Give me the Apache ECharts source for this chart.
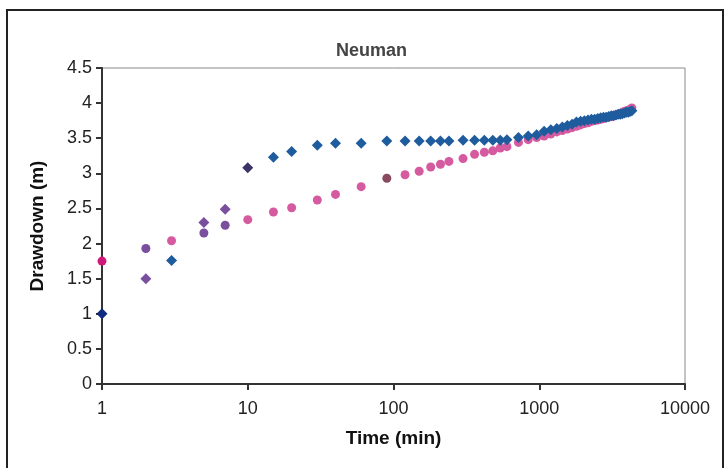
<!DOCTYPE html>
<html>
<head>
<meta charset="utf-8">
<script src="https://cdn.jsdelivr.net/npm/echarts@6/dist/echarts.min.js"></script>
<style>
  html, body { margin: 0; padding: 0; background: #fff; }
  #chart { width: 726px; height: 468px; }
</style>
</head>
<body>
<div id="chart"></div>
<script>
// time (min) of each reading
const times = [
  1, 2, 3, 5, 7, 10, 15, 20, 30, 40, 60, 90, 120, 150, 180, 210, 240, 300, 360,
  420, 480, 540, 600, 720, 840, 960, 1080, 1200, 1320, 1440, 1560, 1680, 1800,
  1920, 2040, 2160, 2280, 2400, 2520, 2640, 2760, 2880, 3000, 3120, 3240, 3360,
  3480, 3600, 3720, 3840, 3960, 4080, 4200, 4320
];

// blue diamonds
const observed = [
  1.00, 1.50, 1.76, 2.30, 2.49, 3.08, 3.23, 3.31, 3.40, 3.43, 3.43, 3.46, 3.46,
  3.46, 3.46, 3.46, 3.46, 3.47, 3.47, 3.47, 3.47, 3.47, 3.48, 3.51, 3.53, 3.55,
  3.60, 3.62, 3.64, 3.66, 3.68, 3.70, 3.73, 3.74, 3.75, 3.76, 3.77, 3.77, 3.78,
  3.79, 3.80, 3.80, 3.81, 3.82, 3.82, 3.83, 3.84, 3.84, 3.85, 3.86, 3.87, 3.87,
  3.88, 3.89
];

// pink circles
const neuman = [
  1.75, 1.93, 2.04, 2.15, 2.26, 2.34, 2.45, 2.51, 2.62, 2.70, 2.81, 2.93, 2.98,
  3.03, 3.09, 3.13, 3.17, 3.21, 3.27, 3.30, 3.32, 3.36, 3.38, 3.44, 3.48, 3.51,
  3.53, 3.56, 3.59, 3.61, 3.63, 3.65, 3.67, 3.69, 3.71, 3.72, 3.74, 3.75, 3.76,
  3.77, 3.78, 3.79, 3.80, 3.81, 3.82, 3.83, 3.84, 3.85, 3.87, 3.88, 3.89, 3.90,
  3.91, 3.93
];

const yTicks = [0, 0.5, 1, 1.5, 2, 2.5, 3, 3.5, 4, 4.5];

// odd colours of a few early points in the scan
const diamondTint = { 1: '#0f2a80', 2: '#7a4f9e', 5: '#7a4f9e', 7: '#7a4f9e', 10: '#3a3566' };
const circleTint = { 1: '#d0187a', 2: '#7a4f9e', 5: '#7a4f9e', 7: '#7a4f9e', 90: '#8a4a5e' };

function build(values, tint) {
  return times.map((t, i) => {
    const d = { value: [t, values[i]] };
    if (tint[t]) d.itemStyle = { color: tint[t], opacity: 1 };
    return d;
  });
}

const chart = echarts.init(document.getElementById('chart'));

chart.setOption({
  backgroundColor: '#fff',
  animation: false,
  title: {
    text: 'Neuman',
    left: 331,
    top: 37,
    textStyle: { fontFamily: 'Liberation Sans, Arial', fontSize: 18, fontWeight: 'bold', color: '#444' }
  },
  graphic: [{
    type: 'rect',
    shape: { x: 7, y: 10, width: 716, height: 470 },
    style: { fill: 'none', stroke: '#222', lineWidth: 2 },
    silent: true
  }],
  grid: {
    left: 102, right: 41, top: 68, bottom: 84,
    show: true, borderColor: '#888', borderWidth: 1, backgroundColor: '#fff'
  },
  xAxis: {
    type: 'log',
    logBase: 10,
    min: 1,
    max: 10000,
    name: 'Time (min)',
    nameLocation: 'middle',
    nameGap: 45,
    nameTextStyle: { fontFamily: 'Liberation Sans, Arial', fontSize: 19, fontWeight: 'bold', color: '#111' },
    axisLine: { lineStyle: { color: '#333', width: 2 } },
    axisTick: { show: true, length: 6, lineStyle: { color: '#333', width: 2 } },
    minorTick: { show: false },
    splitLine: { show: false },
    axisLabel: {
      fontFamily: 'Liberation Sans, Arial', fontSize: 18, color: '#222', margin: 16,
      formatter: v => String(Math.round(v))
    }
  },
  yAxis: {
    type: 'value',
    min: 0,
    max: 4.5,
    interval: 0.5,
    name: 'Drawdown (m)',
    nameLocation: 'middle',
    nameGap: 55,
    nameTextStyle: { fontFamily: 'Liberation Sans, Arial', fontSize: 19, fontWeight: 'bold', color: '#111' },
    axisLine: { show: true, lineStyle: { color: '#333', width: 2 } },
    axisTick: { show: true, length: 6, lineStyle: { color: '#333', width: 2 } },
    splitLine: { show: false },
    axisLabel: {
      fontFamily: 'Liberation Sans, Arial', fontSize: 18, color: '#222', margin: 10,
      formatter: v => yTicks.includes(v) ? String(v) : ''
    }
  },
  series: [
    {
      name: 'Neuman',
      type: 'scatter',
      symbol: 'circle',
      symbolSize: 9,
      itemStyle: { color: '#d65a9f', opacity: 1 },
      data: build(neuman, circleTint),
      z: 2
    },
    {
      name: 'Observed',
      type: 'scatter',
      symbol: 'diamond',
      symbolSize: 11,
      itemStyle: { color: '#1f5c9e', opacity: 1 },
      data: build(observed, diamondTint),
      z: 3
    }
  ]
});
</script>
</body>
</html>
